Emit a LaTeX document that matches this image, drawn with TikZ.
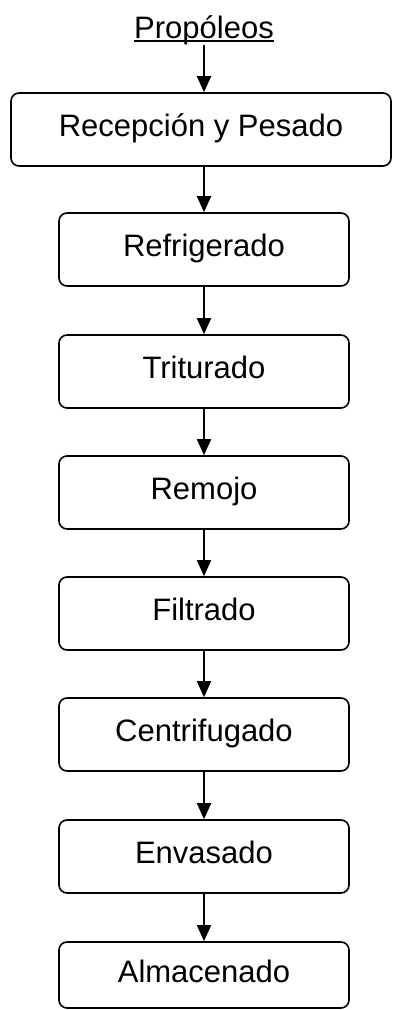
\documentclass[tikz,border=0pt]{standalone}
\usepackage{fontspec}
\setmainfont{Liberation Sans}
\usetikzlibrary{arrows.meta}
\begin{document}
\begin{tikzpicture}[x=1pt,y=-1pt,
  stepbox/.style={draw, line width=1.6pt, rounded corners=8pt,
    minimum width=290pt, minimum height=73pt,
    text height=22pt, text depth=8pt, inner sep=0pt,
    font=\fontsize{31}{37}\selectfont},
  flow/.style={line width=1.8pt, -{Triangle[length=16pt,width=14pt]}}]
\useasboundingbox (0,0) rectangle (392,1010);

% source material
\node[inner sep=0pt, anchor=base, font=\fontsize{31}{37}\selectfont] (src) at (204,38) {Propóleos};
\draw[line width=1.4pt] ([yshift=-3pt]src.base west) -- ([yshift=-3pt]src.base east);

% process steps
\node[stepbox, minimum width=380pt] (n1) at (201,129.5) {Recepción y Pesado};
\node[stepbox] (n2) at (204,249.5) {Refrigerado};
\node[stepbox] (n3) at (204,371.5) {Triturado};
\node[stepbox] (n4) at (204,492.5) {Remojo};
\node[stepbox] (n5) at (204,613.5) {Filtrado};
\node[stepbox] (n6) at (204,734.5) {Centrifugado};
\node[stepbox] (n7) at (204,856.5) {Envasado};
\node[stepbox, minimum height=66pt] (n8) at (204,975) {Almacenado};

% flow arrows
\draw[flow] (src.south -| n2.north) -- (n1.north -| n2.north);
\draw[flow] (n1.south -| n2.north) -- (n2.north);
\draw[flow] (n2) -- (n3);
\draw[flow] (n3) -- (n4);
\draw[flow] (n4) -- (n5);
\draw[flow] (n5) -- (n6);
\draw[flow] (n6) -- (n7);
\draw[flow] (n7) -- (n8);
\end{tikzpicture}
\end{document}
